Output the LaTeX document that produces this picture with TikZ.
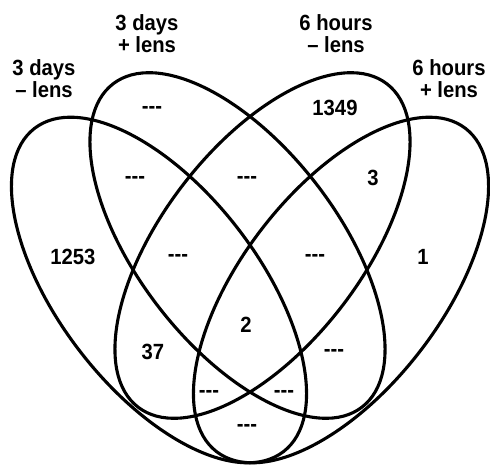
\documentclass[tikz,border=0pt]{standalone}
\usepackage{fontspec}
\setmainfont{Liberation Sans}
\newfontfamily\vennfont{Liberation Sans}[FakeStretch=0.92]
\newcommand{\nodash}{-\kern0pt-\kern0pt-}
\begin{document}
\begin{tikzpicture}[x=1pt,y=1pt,
  set/.style={line width=3.1pt},
  lab/.style={font=\vennfont\fontsize{22}{22}\selectfont\bfseries, align=center, inner sep=0pt},
  num/.style={font=\vennfont\fontsize{22}{22}\selectfont\bfseries, inner sep=0pt}]
\useasboundingbox (0,0) rectangle (490,464);
% ellipses
\coordinate (c1) at (159,174);
\coordinate (c2) at (237.5,218.5);
\coordinate (c3) at (262.5,218.5);
\coordinate (c4) at (341,174);
\draw[set, rotate around={-52.4:(c1)}] (c1) ellipse [x radius=204pt, y radius=100pt];
\draw[set, rotate around={-52.4:(c2)}] (c2) ellipse [x radius=204pt, y radius=100pt];
\draw[set, rotate around={52.4:(c3)}] (c3) ellipse [x radius=204pt, y radius=100pt];
\draw[set, rotate around={52.4:(c4)}] (c4) ellipse [x radius=204pt, y radius=100pt];
% labels
\node[lab] (l1) at (44,385) {3 days\\\textendash\ lens};
\node[lab] (l2) at (147,430) {3 days\\+ lens};
\node[lab] (l3) at (336,430) {6 hours\\\textendash\ lens};
\node[lab] (l4) at (449,385) {6 hours\\+ lens};
% numbers
\node[num] (n1) at (152,354) {\nodash};
\node[num] (n2) at (335,356) {1349};
\node[num] (n3) at (135,284) {\nodash};
\node[num] (n4) at (247,284) {\nodash};
\node[num] (n5) at (373,286) {3};
\node[num] (n6) at (73,207) {1253};
\node[num] (n7) at (178,206) {\nodash};
\node[num] (n8) at (315,206) {\nodash};
\node[num] (n9) at (423,207) {1};
\node[num] (n10) at (246,139) {2};
\node[num] (n11) at (153,112) {37};
\node[num] (n12) at (334,111) {\nodash};
\node[num] (n13) at (209,70) {\nodash};
\node[num] (n14) at (284,70) {\nodash};
\node[num] (n15) at (247,36) {\nodash};
\end{tikzpicture}
\end{document}
